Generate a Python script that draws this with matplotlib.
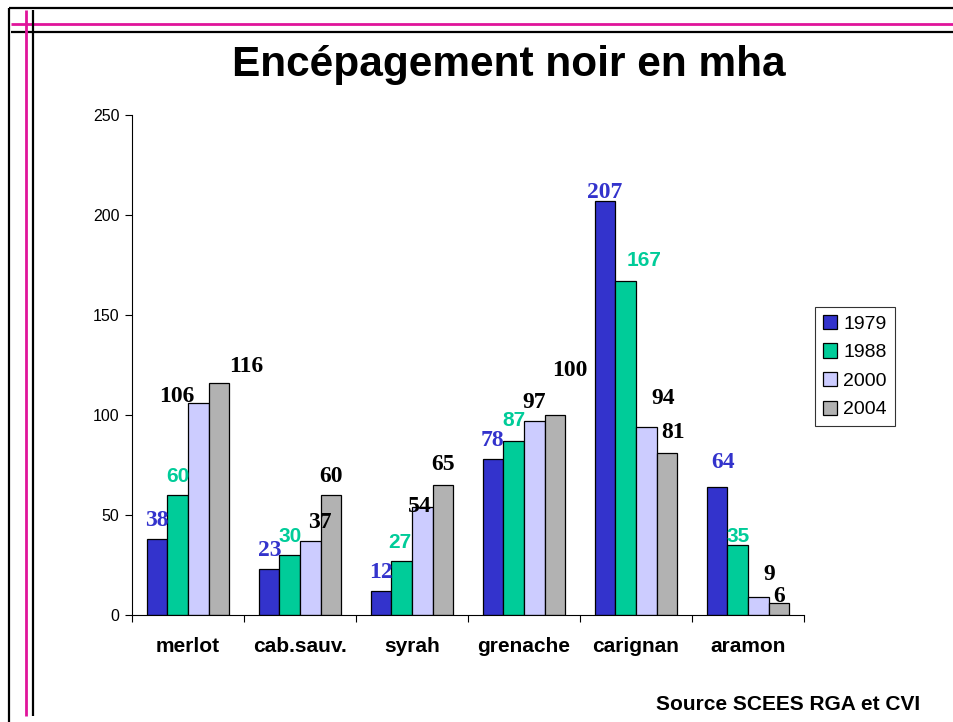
import numpy as np
import matplotlib
matplotlib.use("Agg")
import matplotlib.pyplot as plt
from matplotlib.lines import Line2D

# --- DATA ---
cepages = ["merlot", "cab.sauv.", "syrah", "grenache", "carignan", "aramon"]
annees = ["1979", "1988", "2000", "2004"]
v1979 = [38, 23, 12, 78, 207, 64]
v1988 = [60, 30, 27, 87, 167, 35]
v2000 = [106, 37, 54, 97, 94, 9]
v2004 = [116, 60, 65, 100, 81, 6]
y_ticks = [0, 50, 100, 150, 200, 250]

series = [v1979, v1988, v2000, v2004]
bar_colors = ["#3333CC", "#00CC99", "#CCCCFF", "#B2B2B2"]
label_colors = ["#3333CC", "#00CC99", "black", "black"]
label_fonts = ["Liberation Serif", "Liberation Sans", "Liberation Serif", "Liberation Serif"]
label_sizes = [17, 15, 17, 17]

# label nudges in pixels (dx, height of label centre above bar top)
shifts = [
    [(0, 18), (1, 19), (0, 19), (0, 18), (0, 8), (6, 25)],
    [(0, 19), (0, 18), (-2, 19), (0, 20), (18, 20), (0, 8)],
    [(-22, 7), (10, 19), (-3, 1), (0, 19), (17, 28), (11, 22)],
    [(27, 17), (0, 19), (0, 20), (15, 45), (6, 20), (0, 7)],
]

W, H = 954, 722
fig = plt.figure(figsize=(W / 100, H / 100), dpi=100)
fig.patch.set_facecolor("white")


def px(x, y):
    return x / W, 1 - y / H


# --- slide frame ---
def fline(x0, y0, x1, y1, color, lw):
    (a, b), (c, d) = px(x0, y0), px(x1, y1)
    fig.add_artist(Line2D([a, c], [b, d], transform=fig.transFigure,
                          color=color, lw=lw, solid_capstyle="butt"))

fline(9, 8, W, 8, "black", 1.6)
fline(9, 8, 9, H, "black", 1.6)
fline(11, 24, W, 24, "#E0149A", 2.0)
fline(11, 32, W, 32, "black", 1.6)
fline(26, 10, 26, 716, "#E0149A", 2.0)
fline(33, 10, 33, 716, "black", 1.6)

# --- chart ---
ax = fig.add_axes([132 / W, 1 - 615 / H, (804 - 132) / W, (615 - 115) / H])
x = np.arange(len(cepages))
w = 0.185
for i, (vals, col) in enumerate(zip(series, bar_colors)):
    pos = x + (i - 1.5) * w
    ax.bar(pos, vals, width=w, color=col, edgecolor="black", linewidth=0.9,
           label=annees[i], zorder=2)
    for j, v in enumerate(vals):
        dx, dy = shifts[i][j]
        ax.annotate(str(v), (pos[j], v), xytext=(dx, dy), textcoords="offset pixels",
                    ha="center", va="center", color=label_colors[i],
                    fontsize=label_sizes[i], fontweight="bold",
                    family=label_fonts[i], zorder=3, annotation_clip=False)

ax.set_xlim(-0.5, len(cepages) - 0.5)
ax.set_ylim(0, 250)
ax.set_yticks(y_ticks)
ax.set_yticklabels([str(t) for t in y_ticks], family="Liberation Sans", fontsize=11.5)
ax.set_xticks(x)
ax.set_xticklabels(cepages, family="Liberation Sans", fontsize=15, fontweight="bold")
ax.tick_params(axis="x", length=0, pad=16)
ax.tick_params(axis="y", length=5, width=0.8, pad=4)
ax.set_xticks(np.arange(len(cepages) + 1) - 0.5, minor=True)
ax.tick_params(axis="x", which="minor", length=5, width=0.8)
for s in ["top", "right"]:
    ax.spines[s].set_visible(False)
for s in ["left", "bottom"]:
    ax.spines[s].set_linewidth(0.8)

fig.text(509 / W, 1 - 65 / H, "Encépagement noir en mha", ha="center", va="center",
         fontsize=30.5, fontweight="bold", family="Liberation Sans")
fig.text(920 / W, 1 - 704 / H, "Source SCEES RGA et CVI", ha="right", va="center",
         fontsize=15, fontweight="bold", family="Liberation Sans")

leg = fig.legend(loc="upper left", bbox_to_anchor=px(815, 307), borderaxespad=0,
                 prop={"family": "Liberation Sans", "size": 14}, frameon=True,
                 fancybox=False, edgecolor="black", handlelength=0.75, handleheight=0.75,
                 handletextpad=0.3, labelspacing=0.55, borderpad=0.4)
leg.get_frame().set_linewidth(0.8)

fig.savefig("out.png", dpi=100)
